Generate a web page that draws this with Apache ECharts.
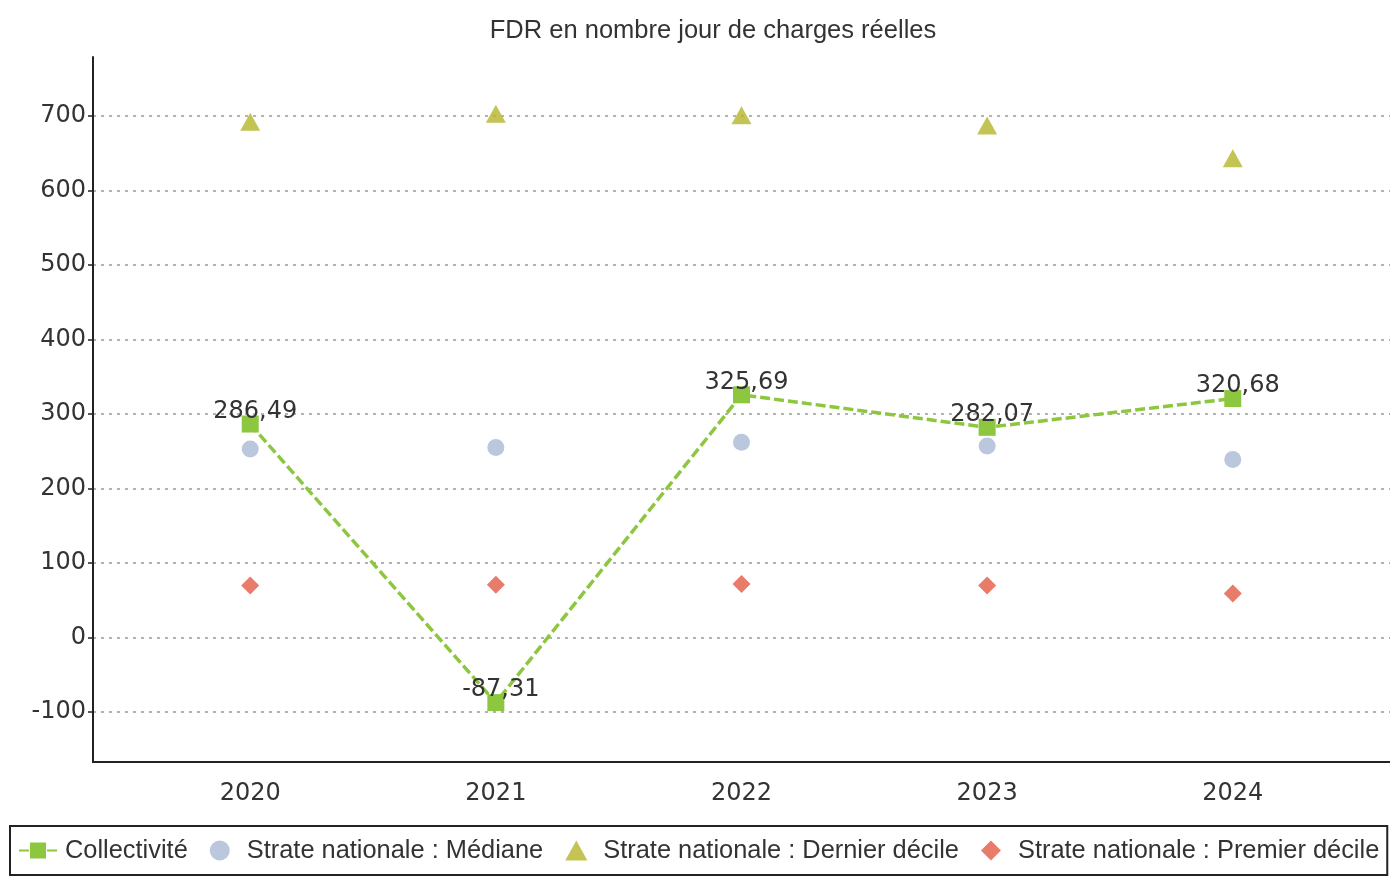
<!DOCTYPE html>
<html lang="fr">
<head>
    <meta charset="UTF-8">
    <title>FDR en nombre jour de charges réelles</title>
    <script src="https://cdn.jsdelivr.net/npm/echarts@6/dist/echarts.min.js"></script>
    <style>
        html, body {
            margin: 0;
            padding: 0;
            background: #fff;
        }
        #chart {
            width: 1390px;
            height: 879px;
        }
    </style>
</head>
<body>
<div id="chart"></div>

<script>
    const years = [2020, 2021, 2022, 2023, 2024];
    const collectivite = [286.49, -87.31, 325.69, 282.07, 320.68];
    const mediane = [253, 255, 262, 257, 239];
    const dernierDecile = [692, 703, 701, 687, 643];
    const premierDecile = [70, 71, 72, 70, 59];
    const yTicks = [-100, 0, 100, 200, 300, 400, 500, 600, 700];

    const pairs = values => years.map((y, i) => [y, values[i]]);
    const fr = v => String(v).replace('.', ',');

    // keep-aspect icons for the legend (built-in ones stretch to itemWidth)
    const triangleIcon = 'path://M10,0L20,18L0,18Z';
    const diamondIcon = 'path://M9,0L18,9L9,18L0,9Z';

    const chart = echarts.init(document.getElementById('chart'));
    const option = {
        backgroundColor: '#fff',
        animation: false,
        title: {
            text: 'FDR en nombre jour de charges réelles',
            left: 708,
            textAlign: 'center',
            top: 13,
            textStyle: {
                fontFamily: 'Liberation Sans',
                fontWeight: 'normal',
                fontSize: 25.5,
                color: '#333'
            }
        },
        grid: {
            left: 93,
            right: 0,
            top: 57,
            bottom: 117
        },
        legend: {
            left: 10,
            top: 826,
            padding: [12, 8, 12, 8],
            borderColor: '#222',
            borderWidth: 2,
            itemWidth: 38,
            itemHeight: 20,
            itemGap: 22,
            textStyle: {
                fontFamily: 'Liberation Sans',
                fontSize: 25.4,
                color: '#333',
                padding: [0, 0, 0, 3]
            },
            data: [
                { name: 'Collectivité' },
                { name: 'Strate nationale : Médiane', icon: 'circle' },
                { name: 'Strate nationale : Dernier décile', icon: triangleIcon },
                { name: 'Strate nationale : Premier décile', icon: diamondIcon }
            ]
        },
        xAxis: {
            type: 'value',
            min: 2019.36,
            max: 2024.64,
            axisLine: { onZero: false, lineStyle: { color: '#222', width: 2 } },
            axisTick: { show: false },
            splitLine: { show: false },
            axisLabel: {
                customValues: years,
                formatter: v => String(v),
                margin: 20,
                fontFamily: 'DejaVu Sans',
                fontSize: 24,
                color: '#333'
            }
        },
        yAxis: {
            type: 'value',
            min: -167,
            max: 779,
            axisLine: { show: true, onZero: false, lineStyle: { color: '#222', width: 2 } },
            axisTick: {
                show: true,
                customValues: yTicks,
                length: 5,
                lineStyle: { color: '#222', width: 1.5 }
            },
            axisLabel: {
                customValues: yTicks,
                margin: 7,
                fontFamily: 'DejaVu Sans',
                fontSize: 24,
                color: '#333'
            },
            splitLine: {
                show: true,
                lineStyle: { color: '#999', width: 1.5, type: [3, 5] }
            }
        },
        series: [
            {
                name: 'Collectivité',
                type: 'line',
                data: pairs(collectivite),
                symbol: 'rect',
                symbolSize: 17,
                z: 5,
                itemStyle: { color: '#8dc63f' },
                lineStyle: { color: '#8dc63f', width: 3.5, type: [10, 4] },
                label: {
                    show: true,
                    position: 'top',
                    distance: -8,
                    offset: [5, 0],
                    formatter: p => fr(p.value[1]),
                    fontFamily: 'DejaVu Sans',
                    fontSize: 24,
                    color: '#333'
                }
            },
            {
                name: 'Strate nationale : Médiane',
                type: 'scatter',
                data: pairs(mediane),
                symbol: 'circle',
                symbolSize: 17,
                itemStyle: { color: '#a9b9d3' }
            },
            {
                name: 'Strate nationale : Dernier décile',
                type: 'scatter',
                data: pairs(dernierDecile),
                symbol: 'triangle',
                symbolSize: [20, 18],
                itemStyle: { color: '#b5b52a' }
            },
            {
                name: 'Strate nationale : Premier décile',
                type: 'scatter',
                data: pairs(premierDecile),
                symbol: 'diamond',
                symbolSize: 18,
                itemStyle: { color: '#e25a45' }
            }
        ]
    };
    chart.setOption(option);
    window.addEventListener('resize', chart.resize);
</script>
</body>
</html>
